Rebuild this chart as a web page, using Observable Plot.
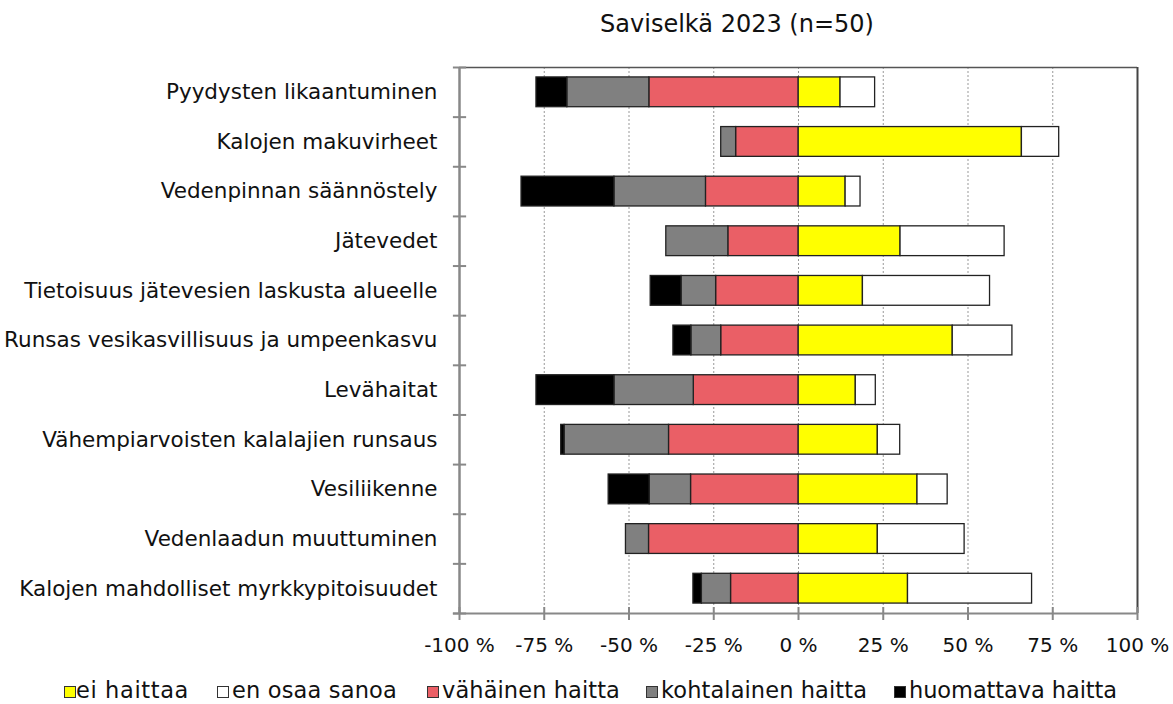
<!DOCTYPE html>
<html><head><meta charset="utf-8">
<script src="https://cdn.jsdelivr.net/npm/d3@7"></script>
<script src="https://cdn.jsdelivr.net/npm/@observablehq/plot@0.6"></script>
<style>
body{margin:0;background:#fff;font-family:"DejaVu Sans",sans-serif;color:#000;}
#wrap{position:relative;width:1173px;height:704px;overflow:hidden;background:#fff;}
#title{position:absolute;top:10px;left:437px;width:600px;text-align:center;font-size:24px;z-index:2;color:#111;}
#chart{position:absolute;top:0;left:0;z-index:1;}
.lg{position:absolute;top:677px;font-size:22.5px;line-height:26px;white-space:nowrap;z-index:2;color:#111;}
.sw{position:absolute;top:9px;width:10px;height:10px;border:1px solid #333;}
.tx{position:absolute;top:0;white-space:nowrap;}
</style></head>
<body><div id="wrap"><div id="title">Saviselkä 2023 (n=50)</div><div id="chart"></div><div id="legend"></div></div>
<script>
const categories = [
  "Pyydysten likaantuminen",
  "Kalojen makuvirheet",
  "Vedenpinnan säännöstely",
  "Jätevedet",
  "Tietoisuus jätevesien laskusta alueelle",
  "Runsas vesikasvillisuus ja umpeenkasvu",
  "Levähaitat",
  "Vähempiarvoisten kalalajien runsaus",
  "Vesiliikenne",
  "Vedenlaadun muuttuminen",
  "Kalojen mahdolliset myrkkypitoisuudet"
];
const seriesNames = ["ei haittaa", "en osaa sanoa", "vähäinen haitta", "kohtalainen haitta", "huomattava haitta"];
const seriesColors = ["#ffff00", "#ffffff", "#ea5f66", "#808080", "#000000"];
const eiHaittaa   = [12.4, 65.9, 13.9, 30.1, 19.0, 45.5, 16.9, 23.4, 35.1, 23.4, 32.3];
const enOsaaSanoa = [10.2, 11.0,  4.4, 30.7, 37.5, 17.6,  5.9,  6.6,  8.9, 25.6, 36.6];
const vahainen    = [44.0, 18.4, 27.3, 20.7, 24.3, 22.8, 30.9, 38.2, 31.7, 44.1, 19.9];
const kohtalainen = [24.2,  4.4, 27.0, 18.3, 10.2,  8.8, 23.4, 30.8, 12.2,  6.8,  8.6];
const huomattava  = [ 9.1,  0.0, 27.4,  0.0,  9.1,  5.3, 23.0,  1.0, 12.1,  0.0,  2.5];
const xTicks = [-100, -75, -50, -25, 0, 25, 50, 75, 100];
const gridTicks = [-75, -50, -25, 0, 25, 50, 75];

const positive = [[seriesNames[0], eiHaittaa], [seriesNames[1], enOsaaSanoa]];
const negative = [[seriesNames[2], vahainen], [seriesNames[3], kohtalainen], [seriesNames[4], huomattava]];
const segs = [];
categories.forEach((c, i) => {
  let p = 0;
  positive.forEach(([k, arr]) => { const v = arr[i]; if (v > 0) { segs.push({k, i, x1: p, x2: p + v}); p += v; } });
  let n = 0;
  negative.forEach(([k, arr]) => { const v = arr[i]; if (v > 0) { segs.push({k, i, x1: n - v, x2: n}); n -= v; } });
});
const boundaries = d3.range(0, categories.length + 1);

const chart = Plot.plot({
  width: 1173, height: 670,
  marginTop: 67, marginBottom: 57, marginLeft: 459, marginRight: 36,
  style: {fontFamily: '"DejaVu Sans", sans-serif', fontSize: "20px", color: "#111", background: "transparent", overflow: "visible"},
  x: {domain: [-100, 100], axis: null},
  y: {domain: [0, categories.length], reverse: true, axis: null},
  color: {domain: seriesNames, range: seriesColors},
  marks: [
    Plot.gridX(gridTicks, {stroke: "#999", strokeOpacity: 1, strokeDasharray: "2,2", strokeWidth: 1}),
    Plot.rect(segs, {x1: "x1", x2: "x2", y1: d => d.i + 0.2, y2: d => d.i + 0.8, fill: "k", stroke: "#222", strokeWidth: 1.3}),
    Plot.ruleY([0], {x1: -100, x2: 100, stroke: "#555", strokeWidth: 1.5}),
    Plot.ruleX([100], {stroke: "#444", strokeWidth: 2}),
    Plot.ruleX([-100], {stroke: "#888", strokeWidth: 2.5}),
    Plot.ruleY(boundaries, {y: d => d, x1: -101.8, x2: -97.9, stroke: "#888", strokeWidth: 2}),
    Plot.ruleY([categories.length], {x1: -101.8, x2: 100, stroke: "#888", strokeWidth: 2}),
    Plot.axisX(xTicks, {tickFormat: d => `${d} %`, tickSize: 13, dy: -6, tickPadding: 17, stroke: "#888", strokeWidth: 2, fill: "#111", fontSize: 20}),
    Plot.axisY(categories.map((c, i) => i + 0.5), {tickFormat: d => categories[Math.floor(d)], tickSize: 0, tickPadding: 22, fill: "#111", fontSize: 21.5})
  ]
});
document.getElementById("chart").appendChild(chart);

// legend: swatch positions and text extents
const legendX = [64, 217, 427, 646, 894];
const legendTextW = [113, 165, 178, 206, 208];
const lg = document.getElementById("legend");
const ctx = document.createElement("canvas").getContext("2d");
ctx.font = '22.5px "DejaVu Sans"';
seriesNames.forEach((name, j) => {
  const s = document.createElement("div");
  s.className = "lg";
  s.style.left = legendX[j] + "px";
  const w = ctx.measureText(name).width;
  const ls = Math.max(-1, Math.min(1.5, (legendTextW[j] - w) / name.length));
  s.innerHTML = `<span class="sw" style="left:0;background:${seriesColors[j]}"></span><span class="tx" style="left:${j === 0 ? 12 : 15}px;letter-spacing:${ls.toFixed(2)}px">${name}</span>`;
  lg.appendChild(s);
});
</script></body></html>
